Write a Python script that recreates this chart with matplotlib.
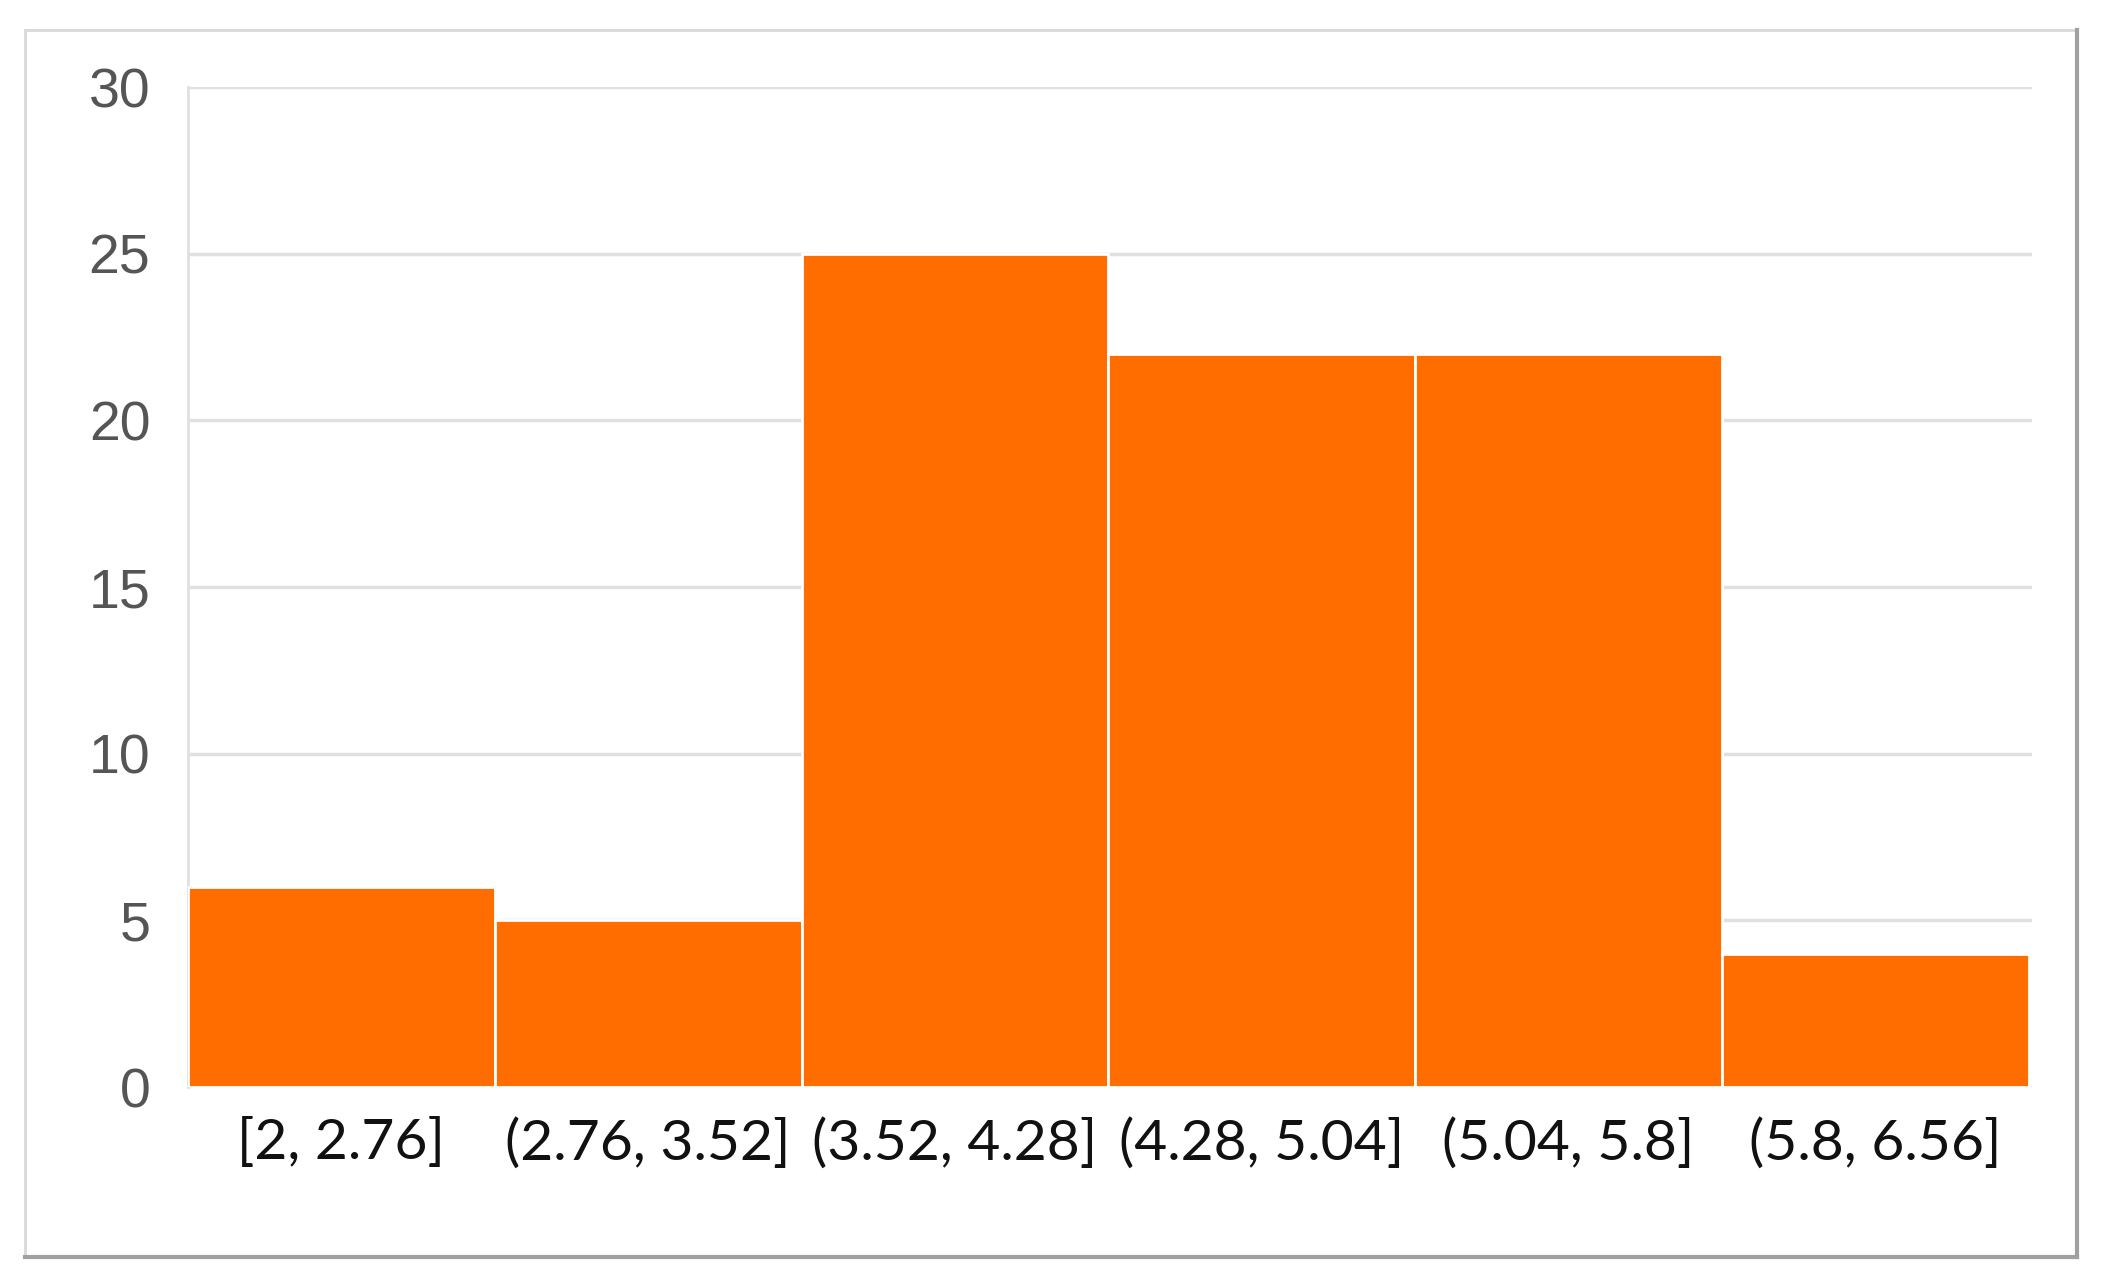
import matplotlib.pyplot as plt
from matplotlib.patches import Rectangle

# histogram bins and counts
bins = ["[2, 2.76]", "(2.76, 3.52]", "(3.52, 4.28]", "(4.28, 5.04]", "(5.04, 5.8]", "(5.8, 6.56]"]
counts = [6, 5, 25, 22, 22, 4]
y_ticks = [0, 5, 10, 15, 20, 25, 30]

fig = plt.figure(figsize=(21.12, 12.87), dpi=100)
ax = fig.add_axes([0.089, 0.1554, 0.873, 0.777])

# outer frame, light top/left, darker shadow right/bottom
fig.patches.append(Rectangle((25 / 2112, 1 - 1257 / 1287), (2077 - 25) / 2112, (1257 - 30) / 1287,
                             transform=fig.transFigure, fill=False, edgecolor="#d8d8d8", linewidth=2))
fig.lines.append(plt.Line2D([2077 / 2112, 2077 / 2112], [1 - 1257 / 1287, 1 - 30 / 1287],
                            transform=fig.transFigure, color="#a0a0a0", linewidth=3))
fig.lines.append(plt.Line2D([25 / 2112, 2077 / 2112], [1 - 1257 / 1287, 1 - 1257 / 1287],
                            transform=fig.transFigure, color="#a0a0a0", linewidth=3))

x = range(len(bins))
ax.bar(x, counts, width=1.0, color="#FF6D00", edgecolor="white", linewidth=2, zorder=3)

ax.set_xlim(-0.5, len(bins) - 0.5 + 0.01)
ax.set_ylim(0, 30)
ax.set_yticks(y_ticks)
ax.set_yticklabels([str(v) for v in y_ticks], fontsize=40, color="#555555", family="Liberation Sans")
ax.set_xticks(list(x))
ax.set_xticklabels(bins, fontsize=41, color="#111111", family="Lato")
ax.tick_params(axis="y", length=0, pad=27)
ax.tick_params(axis="x", length=0, pad=22)
ax.grid(axis="y", color="#e0e0e0", linewidth=2.5, zorder=0)

for side in ["top", "right", "bottom"]:
    ax.spines[side].set_visible(False)
ax.spines["left"].set_color("#e0e0e0")
ax.spines["left"].set_linewidth(2)

fig.savefig("out.png", dpi=100, facecolor="white")
